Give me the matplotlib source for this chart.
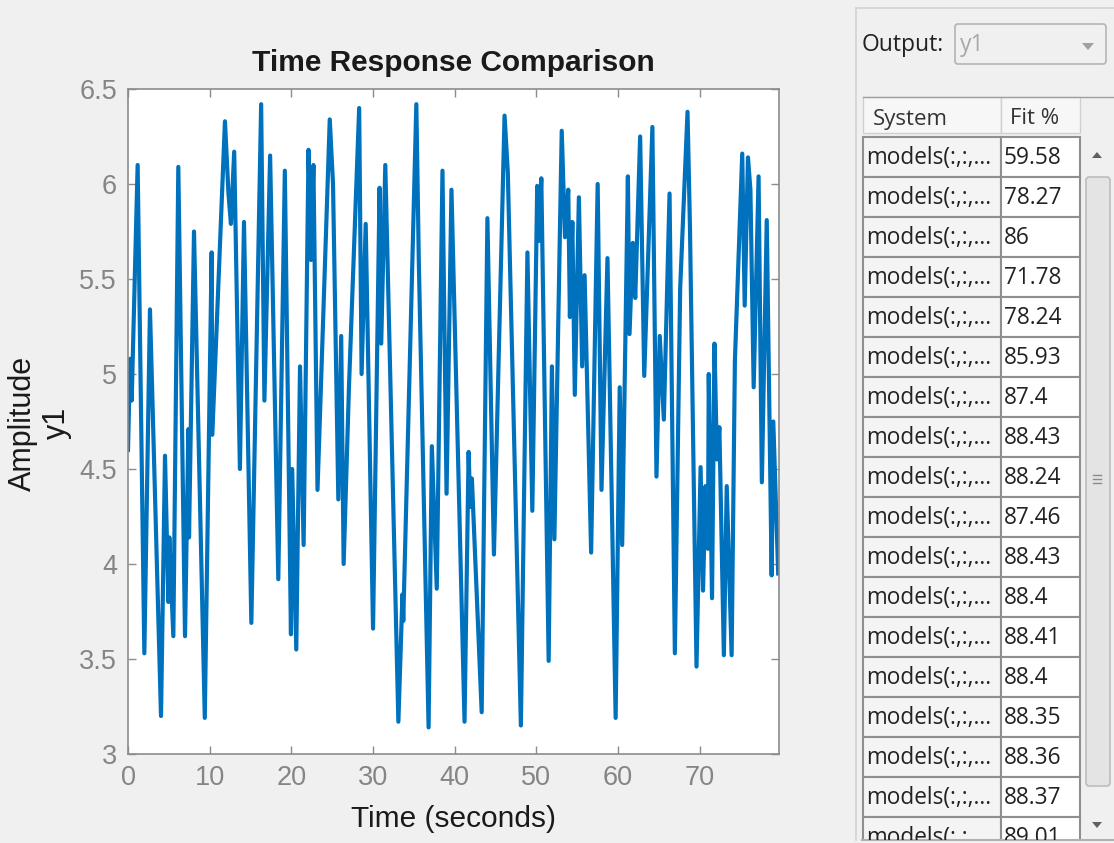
import matplotlib
matplotlib.use("Agg")
import matplotlib.pyplot as plt
from matplotlib.patches import Rectangle, FancyBboxPatch, Polygon

plt.rcParams['font.family'] = ['Liberation Sans', 'DejaVu Sans']

# ---------------- data ----------------
time_s = [0.0, 0.25, 0.45, 1.18, 2.0, 2.69, 4.04, 4.53, 4.94, 5.06, 5.55, 6.16, 6.98, 7.39, 7.47,
          8.08, 9.40, 10.24, 10.32, 11.87, 12.3, 12.6, 13.0, 13.7, 14.2, 15.1, 16.3, 16.7, 17.4,
          18.4, 19.2, 19.95, 20.1, 20.6, 21.06, 21.5, 22.1, 22.4, 22.7, 23.2, 24.7, 25.1, 25.75,
          26.1, 26.4, 27.05, 28.3, 28.6, 29.1, 30.0, 30.8, 31.0, 31.5, 33.1, 33.6, 33.7, 35.3,
          35.6, 36.8, 37.2, 37.8, 38.5, 39.0, 39.6, 41.2, 41.7, 41.9, 42.1, 43.3, 44.0, 44.8,
          46.1, 46.5, 48.1, 48.9, 49.5, 50.1, 50.3, 50.6, 51.5, 51.9, 52.2, 53.1, 53.5, 53.9,
          54.1, 54.4, 54.7, 55.2, 55.6, 55.9, 56.7, 57.5, 57.97, 58.7, 59.7, 60.2, 60.5, 61.2,
          61.4, 61.8, 62.1, 62.7, 63.2, 64.2, 64.7, 65.1, 65.6, 66.3, 66.95, 67.6, 68.5, 68.8,
          69.6, 70.1, 70.4, 70.7, 71.0, 71.1, 71.5, 71.8, 72.1, 72.4, 72.95, 73.3, 73.9, 74.3,
          75.2, 75.5, 75.9, 76.2, 76.6, 77.2, 77.6, 78.2, 78.8, 79.0, 79.6]
amplitude = [4.60, 5.08, 4.86, 6.10, 3.53, 5.34, 3.20, 4.57, 3.80, 4.14, 3.62, 6.09, 3.62, 4.71, 4.14,
             5.75, 3.19, 5.64, 4.68, 6.33, 5.95, 5.79, 6.17, 4.50, 5.80, 3.69, 6.42, 4.86, 6.15,
             3.92, 6.07, 3.63, 4.50, 3.55, 5.04, 4.10, 6.18, 5.60, 6.10, 4.39, 6.34, 6.00, 4.34,
             5.20, 4.00, 4.93, 6.40, 5.00, 5.79, 3.66, 5.98, 5.16, 6.10, 3.17, 3.84, 3.70, 6.42,
             5.60, 3.14, 4.62, 3.87, 6.07, 4.37, 5.97, 3.17, 4.59, 4.30, 4.45, 3.22, 5.82, 4.05,
             6.36, 6.06, 3.15, 5.64, 4.28, 5.99, 5.70, 6.03, 3.49, 5.04, 4.13, 6.28, 5.72, 5.97,
             5.30, 5.80, 4.89, 5.93, 5.04, 5.52, 4.06, 6.00, 4.39, 5.61, 3.19, 4.93, 4.10, 6.04,
             5.21, 5.69, 5.40, 6.25, 4.99, 6.30, 4.46, 5.20, 4.76, 5.95, 3.53, 5.45, 6.38, 5.77,
             3.46, 4.51, 3.86, 4.41, 4.08, 5.00, 3.82, 5.16, 4.55, 4.72, 3.52, 4.41, 3.52, 5.07,
             6.16, 5.36, 6.14, 5.97, 4.93, 6.04, 4.43, 5.81, 3.94, 4.75, 3.95]

x_ticks = [0, 10, 20, 30, 40, 50, 60, 70]
y_ticks = [3, 3.5, 4, 4.5, 5, 5.5, 6, 6.5]
y_tick_labels = ["3", "3.5", "4", "4.5", "5", "5.5", "6", "6.5"]

fit_percent = ["59.58", "78.27", "86", "71.78", "78.24", "85.93", "87.4", "88.43", "88.24",
               "87.46", "88.43", "88.4", "88.41", "88.4", "88.35", "88.36", "88.37", "89.01"]
system_name = "models(:,:,..."

# ---------------- figure ----------------
W, H = 1114, 843
fig = plt.figure(figsize=(W / 100, H / 100), dpi=100, facecolor='#f0f0f0')

# main axes (pixel box: x 128..779, y 89..754)
ax = fig.add_axes([128 / W, 1 - 754 / H, (779 - 128) / W, (754 - 89) / H])
ax.set_facecolor('white')
ax.plot(time_s, amplitude, color='#0072BD', lw=3.0, solid_joinstyle='round')
ax.set_xlim(0, 79.7)
ax.set_ylim(3, 6.5)
ax.set_xticks(x_ticks)
ax.set_yticks(y_ticks)
ax.set_yticklabels(y_tick_labels)
for s in ax.spines.values():
    s.set_color('#8c8c8c')
    s.set_linewidth(1.2)
ax.tick_params(direction='in', length=6, width=1.0, color='#8c8c8c', labelcolor='#858585',
               labelsize=19.5, top=True, right=True, pad=8)
ax.set_title("Time Response Comparison", fontsize=21.5, fontweight='bold', color='#1a1a1a', pad=13)
ax.set_xlabel("Time (seconds)", fontsize=21.5, color='#1a1a1a', labelpad=10)
fig.text(40 / W, 1 - 423 / H, "Amplitude\ny1", rotation=90, ha='center', va='center',
         multialignment='center', fontsize=22, color='#1a1a1a', linespacing=1.15)

# ---------------- right panel ----------------
pa = fig.add_axes([850 / W, 3 / H, 264 / W, 840 / H])
pa.set_xlim(850, 1114)
pa.set_ylim(840, 0)
pa.axis('off')
pa.patch.set_visible(False)

ui = ['Open Sans', 'DejaVu Sans']
# panel border
pa.plot([856, 856], [8, 840], color='#d2d2d2', lw=1.2, clip_on=False)
pa.plot([856, 1114], [8, 8], color='#d2d2d2', lw=1.2, clip_on=False)

pa.text(862, 45, "Output:", fontsize=16.5, family=ui, color='#222222', ha='left', va='center')
pa.add_patch(FancyBboxPatch((955, 24), 151, 40, boxstyle="round,pad=0,rounding_size=3",
                            facecolor='#f0f0f0', edgecolor='#b4b4b4', lw=1.2))
pa.text(960, 45, "y1", fontsize=16.5, family=ui, color='#a8a8a8', ha='left', va='center')
pa.add_patch(Polygon([[1082, 43], [1094, 43], [1088, 50]], closed=True, facecolor='#a0a0a0',
                     edgecolor='none'))

# table header
pa.add_patch(Rectangle((863, 97), 138, 36, facecolor='#f7f7f7', edgecolor='#d0d0d0', lw=1.0))
pa.add_patch(Rectangle((1001, 97), 79, 36, facecolor='#f7f7f7', edgecolor='#d0d0d0', lw=1.0))
pa.plot([863, 1114], [97, 97], color='#a0a0a0', lw=1.0)
pa.text(873, 119, "System", fontsize=16, family=ui, color='#333333', ha='left', va='center')
pa.text(1010, 119, "Fit %", fontsize=16, family=ui, color='#333333', ha='left', va='center')

# table rows
row_top = 137
row_h = 40
for i, fv in enumerate(fit_percent):
    y0 = row_top + i * row_h
    pa.add_patch(Rectangle((863, y0), 138, row_h, facecolor='#f4f4f4', edgecolor='#8f8f8f',
                           lw=1.5, clip_on=True))
    pa.add_patch(Rectangle((1001, y0), 79, row_h, facecolor='white', edgecolor='#8f8f8f',
                           lw=1.5, clip_on=True))
    pa.text(866, y0 + row_h / 2 + 1, system_name, fontsize=16.3, family=ui, color='#222222',
            ha='left', va='center', clip_on=True)
    pa.text(1004, y0 + row_h / 2 + 1, fv, fontsize=16.3, family=ui, color='#222222',
            ha='left', va='center', clip_on=True)

# scrollbar
pa.add_patch(Rectangle((1083, 137), 29, 703, facecolor='#f0f0f0', edgecolor='none'))
pa.add_patch(Polygon([[1092, 158], [1102, 158], [1097, 152]], closed=True, facecolor='#606060',
                     edgecolor='none'))
pa.add_patch(Polygon([[1092, 822], [1102, 822], [1097, 828]], closed=True, facecolor='#606060',
                     edgecolor='none'))
pa.add_patch(FancyBboxPatch((1086, 177), 24, 609, boxstyle="round,pad=0,rounding_size=3",
                            facecolor='#e4e4e4', edgecolor='#bdbdbd', lw=1.2))
for gy in [475, 479, 483]:
    pa.plot([1093, 1101], [gy, gy], color='#8a8a8a', lw=1.0)

# bottom border of panel
pa.plot([862, 1114], [840, 840], color='#b0b0b0', lw=1.5, clip_on=False)

fig.savefig("out.png", dpi=100, facecolor=fig.get_facecolor())
